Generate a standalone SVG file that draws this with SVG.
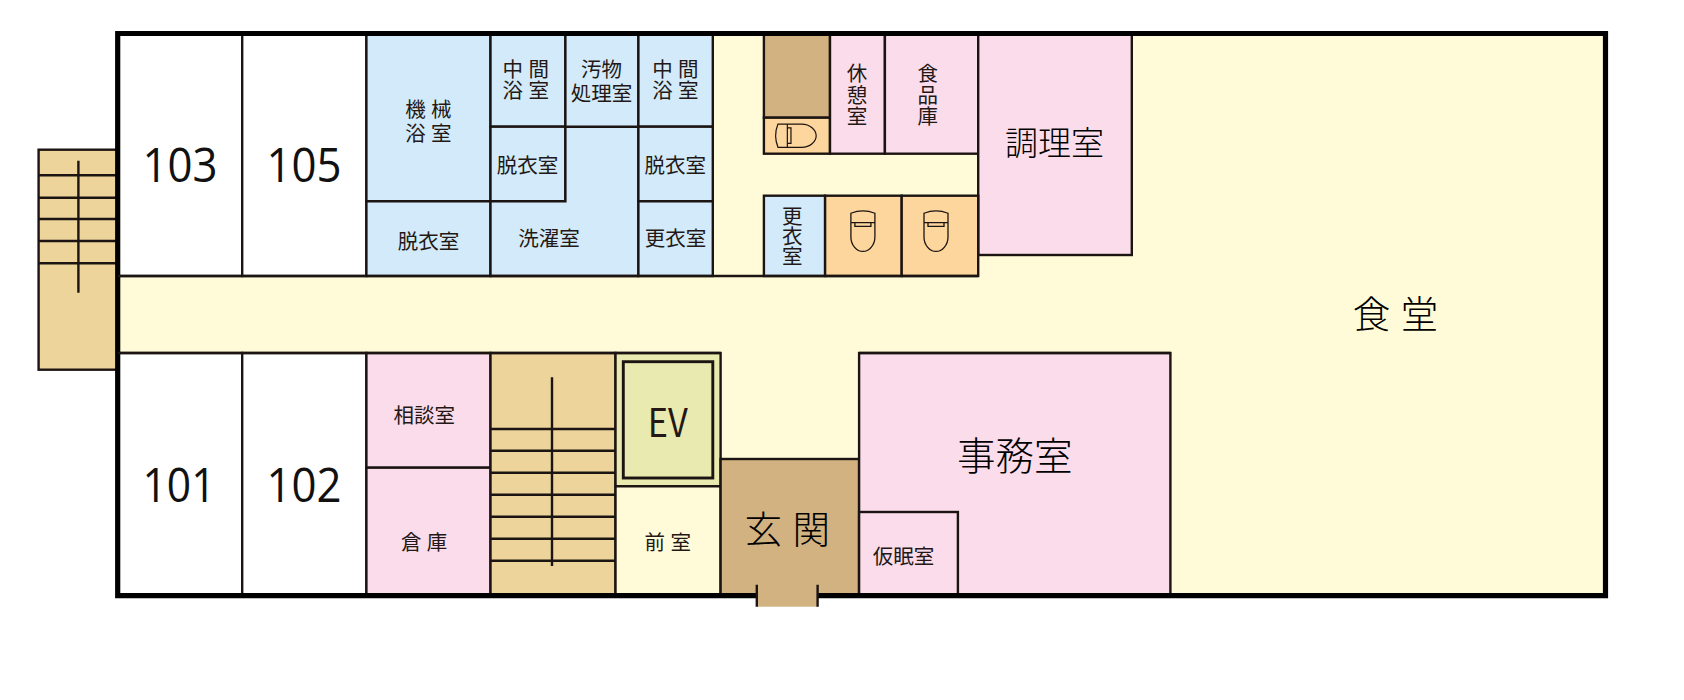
<svg xmlns="http://www.w3.org/2000/svg" xmlns:xlink="http://www.w3.org/1999/xlink" width="1684" height="700" viewBox="0 0 1684 700">
<style>
.r{stroke:#1c1412;stroke-width:2.4}
.w{fill:#fff}.y{fill:#FFFBD9}.b{fill:#D2EAF9}.p{fill:#FADCEB}.t{fill:#D1B280}.s{fill:#EDD49B}.o{fill:#FCD69C}.e{fill:#E8EAAF}
.l{stroke:#1c1412;stroke-width:2.4;fill:none}
.f{fill:none;stroke:#1c1412;stroke-width:1.3}
text{font-family:"Noto Sans CJK JP","Noto Sans",sans-serif;font-weight:400;fill:#231815;text-anchor:middle}
.n{font-family:"Open Sans","Noto Sans",sans-serif;font-weight:400;font-size:48px;text-anchor:start;fill:#111}
.m{font-size:20.5px}
.g{font-size:20.5px;letter-spacing:5.3px}
.h{font-size:33px;font-weight:300;fill:#000}
.k{font-size:38.5px;font-weight:300;fill:#000}
.j{font-size:37.5px;letter-spacing:10.5px;font-weight:300;fill:#000}
</style>
<defs>
<g id="toilet">
<path class="f" d="M-12 3.5Q0 -1.5 12 3.5V29C12 38 6 44.6 0 44.6S-12 38 -12 29ZM-12 13.6H12M-8 13.6V17.5H8V13.6"/>
</g>
</defs>
<rect id="floor" class="y" x="117.7" y="33.5" width="1487.8" height="562.2"/>

<g id="stairs-west">
<rect class="r s" x="38.6" y="149.7" width="79.1" height="220"/>
<path class="l" d="M38.6 175.3H117.7M38.6 197.7H117.7M38.6 219H117.7M38.6 241H117.7M38.6 263.3H117.7M78.4 160.7V292.7"/>
</g>
<g id="room-103"><rect class="r w" x="117.7" y="33.5" width="124.5" height="242.5"/><text class="n" x="142.5" y="182" textLength="75" lengthAdjust="spacingAndGlyphs">103</text></g>
<g id="room-105"><rect class="r w" x="242.2" y="33.5" width="124.2" height="242.5"/><text class="n" x="266.5" y="182" textLength="75" lengthAdjust="spacingAndGlyphs">105</text></g>
<g id="room-101"><rect class="r w" x="117.7" y="353" width="124.5" height="242.7"/><text class="n" x="142.5" y="502" textLength="73" lengthAdjust="spacingAndGlyphs">101</text></g>
<g id="room-102"><rect class="r w" x="242.2" y="353" width="124.2" height="242.7"/><text class="n" x="266.5" y="502" textLength="75" lengthAdjust="spacingAndGlyphs">102</text></g>

<g id="machine-bath"><rect class="r b" x="366.4" y="33.5" width="124.1" height="167.8"/><text class="g" x="431" y="116.5">機械</text><text class="g" x="431" y="141.2">浴室</text></g>
<g id="changing-1"><rect class="r b" x="366.4" y="201.3" width="124.1" height="74.7"/><text class="m" x="428.5" y="249.3">脱衣室</text></g>
<g id="mid-bath-1"><rect class="r b" x="490.5" y="33.5" width="74.9" height="93.2"/><text class="g" x="528.4" y="77">中間</text><text class="g" x="528.4" y="98">浴室</text></g>
<g id="changing-2"><rect class="r b" x="490.5" y="126.7" width="74.9" height="74.6"/><text class="m" x="527.4" y="172.7">脱衣室</text></g>
<g id="laundry"><path class="r b" d="M490.5 201.3H565.4V126.7H638.4V276H490.5Z"/><text class="m" x="549" y="246">洗濯室</text></g>
<g id="soiled"><rect class="r b" x="565.4" y="33.5" width="73" height="93.2"/><text class="m" x="601.5" y="77">汚物</text><text class="m" x="601.5" y="101.3">処理室</text></g>
<g id="mid-bath-2"><rect class="r b" x="638.4" y="33.5" width="74.4" height="93.2"/><text class="g" x="678" y="77">中間</text><text class="g" x="678" y="98">浴室</text></g>
<g id="changing-3"><rect class="r b" x="638.4" y="126.7" width="74.4" height="74.6"/><text class="m" x="675.2" y="172.7">脱衣室</text></g>
<g id="locker-1"><rect class="r b" x="638.4" y="201.3" width="74.4" height="74.7"/><text class="m" x="675.4" y="246">更衣室</text></g>

<g id="store-tan"><rect class="r t" x="763.9" y="33.5" width="66.1" height="84.2"/></g>
<g id="toilet-north"><rect class="r o" x="763.9" y="117.7" width="66.1" height="36"/><use xlink:href="#toilet" href="#toilet" transform="translate(774.7 135.7) rotate(-90) scale(.97 .93)"/></g>
<g id="rest"><rect class="r p" x="830" y="33.5" width="54.9" height="120.2"/><text class="m"><tspan x="857" y="81">休</tspan><tspan x="857" y="102.7">憩</tspan><tspan x="857" y="123.7">室</tspan></text></g>
<g id="pantry"><rect class="r p" x="884.9" y="33.5" width="93.3" height="120.2"/><text class="m"><tspan x="927.8" y="81">食</tspan><tspan x="927.8" y="102.7">品</tspan><tspan x="927.8" y="123.7">庫</tspan></text></g>
<g id="kitchen"><rect class="r p" x="978.2" y="33.5" width="153.6" height="221.5"/><text class="h" x="1054.5" y="154.5">調理室</text></g>
<g id="locker-2"><rect class="r b" x="763.9" y="195.7" width="61.2" height="80.3"/><text class="m"><tspan x="792.2" y="223.7">更</tspan><tspan x="792.2" y="243.7">衣</tspan><tspan x="792.2" y="264.3">室</tspan></text></g>
<g id="toilet-1"><rect class="r o" x="825.1" y="195.7" width="76.6" height="80.3"/><use xlink:href="#toilet" href="#toilet" transform="translate(862.9 210) scale(1 .93)"/></g>
<g id="toilet-2"><rect class="r o" x="901.7" y="195.7" width="76.5" height="80.3"/><use xlink:href="#toilet" href="#toilet" transform="translate(936 210) scale(1 .93)"/></g>

<g id="consult"><rect class="r p" x="366.4" y="353" width="124.1" height="114.7"/><text class="m" x="424.3" y="423">相談室</text></g>
<g id="storage"><rect class="r p" x="366.4" y="467.7" width="124.1" height="128"/><text class="g" x="426.7" y="550.3">倉庫</text></g>
<g id="stairs-main">
<rect class="r s" x="490.5" y="353" width="125" height="242.7"/>
<path class="l" d="M490.5 429H615.5M490.5 450.7H615.5M490.5 472.7H615.5M490.5 494.7H615.5M490.5 516.7H615.5M490.5 538.7H615.5M490.5 560.7H615.5M552 377.3V566"/>
</g>
<g id="ev"><rect class="r e" x="615.5" y="353" width="105.1" height="133.3"/><rect class="e" x="623.3" y="361.7" width="89.5" height="116.3" stroke="#1c1412" stroke-width="2.9"/><text x="667.7" y="436.5" font-size="39" textLength="40" lengthAdjust="spacingAndGlyphs">EV</text></g>
<g id="anteroom"><rect class="r y" x="615.5" y="486.3" width="105.1" height="109.4"/><text class="g" x="670.4" y="549.7">前室</text></g>
<g id="entrance"><rect class="r t" x="720.6" y="459" width="138.5" height="136.7"/><text class="j" x="792.4" y="542.5">玄関</text></g>
<g id="office"><rect class="r p" x="859.1" y="353" width="311.3" height="242.7"/><text class="k" x="1014.7" y="469.8">事務室</text></g>
<g id="nap"><rect class="r p" x="859.1" y="512" width="98.8" height="83.7"/><text class="m" x="903.5" y="563.7">仮眠室</text></g>
<g id="dining"><text class="j" x="1400.8" y="327.5">食堂</text></g>

<g id="walls">
<path d="M756.8 595.7H117.7V33.5H1605.5V595.7H817.6" fill="none" stroke="#000" stroke-width="5.2"/>
<path class="l" d="M117.7 276H978M117.7 353H720.6M859.1 353H1170.4"/>
</g>
<g id="door"><rect class="t" x="756.8" y="592" width="60.8" height="14.7"/><path class="l" d="M756.8 584.7V606.7M817.6 584.7V606.7"/></g>
</svg>
